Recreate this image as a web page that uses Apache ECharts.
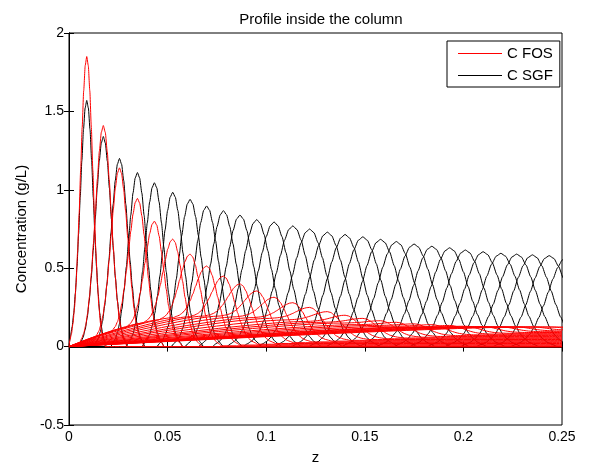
<!DOCTYPE html>
<html>
<head>
<meta charset="utf-8">
<title>Profile inside the column</title>
<script src="https://cdn.jsdelivr.net/npm/echarts@6/dist/echarts.min.js"></script>
<style>
  html, body { margin: 0; padding: 0; background: #fff; }
  #chart { width: 594px; height: 464px; }
</style>
</head>
<body>
<div id="chart"></div>
<script>
// peak position of each profile along the column (z), shared by both components
const peakZ = [0.009, 0.0174, 0.0256, 0.0347, 0.0433, 0.0526, 0.0614, 0.0698, 0.0783, 0.0867,
  0.0952, 0.104, 0.1135, 0.122, 0.131, 0.14, 0.149, 0.158, 0.166, 0.175,
  0.184, 0.193, 0.201, 0.21, 0.219, 0.227, 0.235, 0.2435, 0.2525]

// C SGF (black) peak heights and widths
const sgfHeight = [1.57, 1.34, 1.2, 1.11, 1.045, 0.984, 0.939, 0.897, 0.867, 0.839,
  0.81, 0.795, 0.77, 0.75, 0.73, 0.715, 0.7, 0.684, 0.67, 0.654,
  0.64, 0.63, 0.616, 0.605, 0.595, 0.59, 0.585, 0.58, 0.57]
const sgfWidth = [0.0033, 0.0041, 0.0043, 0.0045, 0.0048, 0.0052, 0.0056, 0.006, 0.0065, 0.007,
  0.0075, 0.008, 0.0084, 0.0087, 0.0089, 0.009, 0.0091, 0.0092, 0.0092, 0.0093,
  0.0093, 0.0094, 0.0094, 0.0094, 0.0095, 0.0095, 0.0095, 0.0095, 0.0095]

// C FOS (red) peak heights, widths, level of the tail behind the peak and level ahead of it
const fosHeight = [1.85, 1.41, 1.14, 0.945, 0.8, 0.686, 0.59, 0.514, 0.45, 0.4,
  0.355, 0.315, 0.28, 0.25, 0.223, 0.2, 0.18, 0.165, 0.155, 0.145,
  0.14, 0.135, 0.13, 0.128, 0.126, 0.125, 0.125, 0.125, 0.125]
const fosWidth = [0.0031, 0.004, 0.0042, 0.0045, 0.0048, 0.005, 0.0053, 0.0056, 0.0058, 0.006,
  0.0062, 0.0064, 0.0066, 0.0068, 0.007, 0.007, 0.007, 0.007, 0.007, 0.007,
  0.007, 0.007, 0.007, 0.007, 0.007, 0.007, 0.007, 0.007, 0.007]
const fosTail = [0, 0.02, 0.05, 0.09, 0.12, 0.15, 0.17, 0.185, 0.19, 0.195,
  0.195, 0.19, 0.185, 0.18, 0.17, 0.16, 0.155, 0.15, 0.14, 0.135,
  0.13, 0.125, 0.125, 0.125, 0.125, 0.125, 0.125, 0.125, 0.125]
const fosAhead = [0, 0, 0, 0, 0, 0, 0.005, 0.01, 0.015, 0.02,
  0.025, 0.03, 0.035, 0.04, 0.045, 0.05, 0.055, 0.06, 0.065, 0.07,
  0.075, 0.08, 0.085, 0.09, 0.095, 0.1, 0.105, 0.11, 0.115]

// peak shape read from the crossings of neighbouring profiles (offset in widths, fraction of peak)
const shapeOffset = [-3, -2.75, -2.5, -2.25, -2, -1.75, -1.5, -1.25, -1, -0.75, -0.5, -0.25, 0,
  0.25, 0.5, 0.75, 1, 1.25, 1.5, 1.75, 2, 2.25, 2.5, 2.75, 3]
const shapeRatio = [0, 0.023, 0.044, 0.08, 0.135, 0.216, 0.325, 0.458, 0.607, 0.755, 0.882, 0.969, 1,
  0.969, 0.882, 0.755, 0.607, 0.458, 0.325, 0.216, 0.135, 0.08, 0.044, 0.023, 0]

const zEnd = 0.25

const sgfCurve = (k) => {
  const pts = [[0, 0]]
  shapeOffset.forEach((off, i) => {
    const z = peakZ[k] + off * sgfWidth[k]
    if (z > 0) pts.push([z, sgfHeight[k] * shapeRatio[i]])
  })
  if (pts[pts.length - 1][0] < zEnd) pts.push([zEnd, 0])
  return pts
}

const fosCurve = (k) => {
  const pts = [[0, 0]]
  shapeOffset.forEach((off, i) => {
    const z = peakZ[k] + off * fosWidth[k]
    const base = off < 0 ? fosTail[k] : fosAhead[k]
    if (z > 0) pts.push([z, base + (fosHeight[k] - base) * shapeRatio[i]])
  })
  if (pts[pts.length - 1][0] < zEnd) pts.push([zEnd, fosAhead[k]])
  return pts
}

const lineSeries = (name, color, data, z) => ({
  name,
  type: 'line',
  data,
  z,
  symbol: 'none',
  smooth: 0.2,
  smoothMonotone: 'x',
  silent: true,
  color,
  lineStyle: { color, width: 1 },
  itemStyle: { color, borderColor: color }
})

// red series listed first (legend order), drawn above the black ones through z
const series = []
peakZ.forEach((p, k) => series.push(lineSeries('C FOS', '#ff0000', fosCurve(k), 3)))
peakZ.forEach((p, k) => series.push(lineSeries('C SGF', '#000000', sgfCurve(k), 2)))

const font = 'Liberation Sans, Arial, Helvetica, sans-serif'
const tickStyle = { show: true, inside: true, length: 5, lineStyle: { color: '#000' } }
const axisLineStyle = { show: true, lineStyle: { color: '#000', width: 1 } }
const textSize = 14

const chart = echarts.init(document.getElementById('chart'), null, { renderer: 'canvas' })
chart.setOption({
  animation: false,
  backgroundColor: '#fff',
  title: {
    text: 'Profile inside the column',
    left: 316,
    top: 7,
    textAlign: 'center',
    textStyle: { fontFamily: font, fontSize: 15, fontWeight: 'normal', color: '#000' }
  },
  legend: {
    data: [
      { name: 'C FOS', itemStyle: { color: '#ff0000', borderColor: '#ff0000' }, lineStyle: { color: '#ff0000' } },
      { name: 'C SGF', itemStyle: { color: '#000000', borderColor: '#000000' }, lineStyle: { color: '#000000' } }
    ],
    orient: 'vertical',
    left: 447,
    top: 41,
    padding: [5, 7, 4, 11],
    itemGap: 7,
    itemWidth: 44,
    itemHeight: 1,
    itemTextGap: 6,
    icon: 'rect',
    backgroundColor: '#fff',
    borderColor: '#000',
    borderWidth: 1,
    borderRadius: 0,
    textStyle: { fontFamily: font, fontSize: 15, color: '#000' }
  },
  grid: {
    left: 69,
    right: 32,
    top: 33,
    bottom: 39,
    outerBoundsMode: 'none',
    show: true,
    borderColor: '#000',
    borderWidth: 1,
    backgroundColor: 'transparent'
  },
  xAxis: [
    {
      type: 'value',
      min: 0,
      max: 0.25,
      interval: 0.05,
      name: 'z',
      nameLocation: 'middle',
      nameGap: 25,
      nameTextStyle: { fontFamily: font, fontSize: 15, color: '#000' },
      axisLine: axisLineStyle,
      axisTick: tickStyle,
      axisLabel: { fontFamily: font, fontSize: textSize, color: '#000', margin: 5 },
      splitLine: { show: false }
    },
    {
      type: 'value',
      position: 'top',
      min: 0,
      max: 0.25,
      interval: 0.05,
      axisLine: axisLineStyle,
      axisTick: tickStyle,
      axisLabel: { show: false },
      splitLine: { show: false }
    }
  ],
  yAxis: [
    {
      type: 'value',
      min: -0.5,
      max: 2,
      interval: 0.5,
      name: 'Concentration (g/L)',
      nameLocation: 'middle',
      nameGap: 40,
      nameRotate: 90,
      nameTextStyle: { fontFamily: font, fontSize: 15, color: '#000' },
      axisLine: axisLineStyle,
      axisTick: tickStyle,
      axisLabel: { fontFamily: font, fontSize: textSize, color: '#000', margin: 5 },
      splitLine: { show: false }
    },
    {
      type: 'value',
      position: 'right',
      min: -0.5,
      max: 2,
      interval: 0.5,
      axisLine: axisLineStyle,
      axisTick: tickStyle,
      axisLabel: { show: false },
      splitLine: { show: false }
    }
  ],
  series
})
</script>
</body>
</html>
